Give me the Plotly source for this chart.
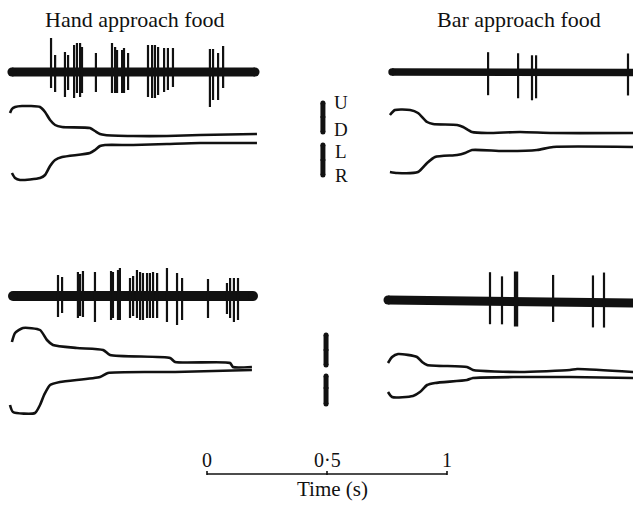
import numpy as np
import plotly.graph_objects as go

# ---------------- DATA ----------------
# Spike times (s) and spike amplitudes (up / down, arbitrary units)
HT_SPK_T = [0.171, 0.188, 0.229, 0.242, 0.267, 0.279, 0.292, 0.300, 0.358, 0.425, 0.438, 0.446, 0.467,
            0.475, 0.492, 0.575, 0.592, 0.604, 0.617, 0.642, 0.658, 0.679, 0.833, 0.846, 0.867, 0.888]
HT_SPK_UP = [34, 17, 20, 17, 27, 29, 29, 25, 19, 29, 25, 22, 22, 24, 19, 27, 27, 27, 25, 24, 24, 24, 23, 23, 19, 26]
HT_SPK_DN = [16, 20, 25, 18, 26, 21, 25, 21, 20, 21, 21, 21, 21, 21, 18, 25, 26, 26, 23, 20, 18, 15, 35, 28, 28, 16]

BT_SPK_T = [0.417, 0.542, 0.600, 0.617, 1.000]
BT_SPK_UP = [20, 19, 17, 17, 19]
BT_SPK_DN = [23, 26, 28, 26, 23]

HB_SPK_T = [0.200, 0.217, 0.283, 0.292, 0.304, 0.354, 0.421, 0.429, 0.450, 0.458, 0.500, 0.513, 0.529, 0.542,
            0.554, 0.571, 0.583, 0.596, 0.613, 0.654, 0.696, 0.717, 0.825, 0.904, 0.917, 0.933, 0.950]
HB_SPK_UP = [21, 19, 24, 22, 25, 24, 25, 24, 26, 28, 18, 20, 26, 24, 23, 23, 23, 24, 23, 28, 23, 18, 17, 13, 18, 18, 18]
HB_SPK_DN = [21, 17, 22, 20, 21, 26, 24, 22, 24, 24, 22, 20, 22, 24, 24, 22, 22, 22, 22, 26, 29, 24, 22, 18, 22, 26, 24]

BB_SPK_T = [0.425, 0.475, 0.529, 0.538, 0.688, 0.854, 0.900]
BB_SPK_UP = [29, 25, 30, 30, 27, 27, 30]
BB_SPK_DN = [23, 23, 25, 25, 20, 25, 25]

# Background activity band: start/end time (s) and level (a.u., +down)
HT_BAND_T = [0.008, 1.021]
HT_BAND_L = [0, 0]
BT_BAND_T = [0.017, 1.06]
BT_BAND_L = [0, 0.5]
HB_BAND_T = [0.0125, 1.0125]
HB_BAND_L = [0, 0]
BB_BAND_T = [0.0, 1.06]
BB_BAND_L = [0, 3]

# Eye position traces: time (s) and position below unit record (a.u.)
HT_V_T = [0, 0.008, 0.021, 0.05, 0.125, 0.146, 0.167, 0.188, 0.217, 0.333, 0.354, 0.375, 0.396, 0.513, 0.654, 0.792, 1.029]
HT_V = [41, 37, 35, 34, 35, 40, 48, 53, 55, 56, 59, 62, 63, 64, 64, 63, 62]
HT_H_T = [0.008, 0.021, 0.042, 0.125, 0.146, 0.167, 0.188, 0.217, 0.333, 0.354, 0.375, 0.396, 0.513, 0.654, 0.792, 1.029]
HT_H = [101, 106, 108, 106, 103, 94, 88, 85, 81, 78, 74, 73, 73, 72, 71, 71]

BT_V_T = [0.008, 0.029, 0.092, 0.125, 0.163, 0.188, 0.288, 0.313, 0.35, 0.413, 0.55, 0.688, 1.021]
BT_V = [43, 38, 38, 41, 50, 52, 53, 55, 60, 61, 60, 61, 61]
BT_H_T = [0.008, 0.038, 0.125, 0.163, 0.196, 0.288, 0.321, 0.35, 0.479, 0.621, 0.688, 1.021]
BT_H = [100, 101, 100, 91, 85, 83, 81, 78, 79, 78, 75, 75]

HB_V_T = [0.008, 0.021, 0.054, 0.125, 0.154, 0.179, 0.279, 0.388, 0.417, 0.667, 0.688, 0.917, 0.929, 1.008]
HB_V = [46, 37, 32, 34, 44, 49, 52, 54, 59, 62, 66, 67, 71, 71]
HB_H_T = [0, 0.0125, 0.104, 0.125, 0.142, 0.167, 0.208, 0.375, 0.408, 0.688, 1.008]
HB_H = [109, 116, 117, 109, 99, 89, 86, 81, 77, 76, 74]

BB_V_T = [0, 0.017, 0.042, 0.121, 0.142, 0.163, 0.329, 0.354, 0.55, 0.758, 0.788, 1.021]
BB_V = [63, 57, 54, 57, 62, 65, 67, 70, 72, 70, 69, 72]
BB_H_T = [0, 0.017, 0.104, 0.133, 0.163, 0.196, 0.329, 0.354, 0.55, 0.758, 1.021]
BB_H = [92, 97, 96, 92, 85, 83, 80, 78, 77, 77, 78]

PANEL_TITLES = ["Hand approach food", "Bar approach food"]
TIME_TICKS = [0, 0.5, 1]
TIME_TICK_LABELS = ["0", "0·5", "1"]
TIME_TITLE = "Time (s)"
CAL_LABELS = ["U", "D", "L", "R"]

# ---------------- LAYOUT CONSTANTS ----------------
W, H = 633, 505
PX_PER_S = 240.0
ORIGIN_LEFT, ORIGIN_RIGHT, ORIGIN_SCALE = 10, 388, 207
BASE = {"HT": 72, "BT": 72, "HB": 296, "BB": 300}
INK = "#111111"
FONT = "Liberation Serif"

fig = go.Figure()


def add_panel(key, xa, spk_t, spk_up, spk_dn, band_t, band_l, band_w, v_t, v, h_t, h):
    base = BASE[key]
    band_y = [base + l for l in band_l]
    # background band
    fig.add_trace(go.Scatter(x=band_t, y=band_y, mode="lines+markers", xaxis=xa, yaxis="y",
                             line=dict(color=INK, width=band_w),
                             marker=dict(color=INK, size=band_w, line=dict(width=0)),
                             hoverinfo="skip"))
    # spikes
    xs, ys = [], []
    for t, u, d in zip(spk_t, spk_up, spk_dn):
        c = float(np.interp(t, band_t, band_y))
        xs += [t, t, None]
        ys += [c - u, c + d, None]
    fig.add_trace(go.Scatter(x=xs, y=ys, mode="lines", xaxis=xa, yaxis="y",
                             line=dict(color=INK, width=2.2), hoverinfo="skip"))
    # eye traces
    for tt, vv in ((v_t, v), (h_t, h)):
        fig.add_trace(go.Scatter(x=tt, y=[base + q for q in vv], mode="lines", xaxis=xa, yaxis="y",
                                 line=dict(color=INK, width=2.6, shape="spline", smoothing=0.6),
                                 hoverinfo="skip"))


add_panel("HT", "x", HT_SPK_T, HT_SPK_UP, HT_SPK_DN, HT_BAND_T, HT_BAND_L, 9, HT_V_T, HT_V, HT_H_T, HT_H)
add_panel("BT", "x2", BT_SPK_T, BT_SPK_UP, BT_SPK_DN, BT_BAND_T, BT_BAND_L, 7.5, BT_V_T, BT_V, BT_H_T, BT_H)
add_panel("HB", "x", HB_SPK_T, HB_SPK_UP, HB_SPK_DN, HB_BAND_T, HB_BAND_L, 10, HB_V_T, HB_V, HB_H_T, HB_H)
add_panel("BB", "x2", BB_SPK_T, BB_SPK_UP, BB_SPK_DN, BB_BAND_T, BB_BAND_L, 9, BB_V_T, BB_V, BB_H_T, BB_H)

# calibration bars (x in scale-axis seconds, y0, y1, notch)
CAL_BARS = [(0.483, 103, 132, 117), (0.483, 145, 175, 160), (0.496, 335, 365, 350), (0.496, 376, 404, 388)]
for cx, y0, y1, yt in CAL_BARS:
    fig.add_trace(go.Scatter(x=[cx, cx], y=[y0, y1], mode="lines+markers", xaxis="x3", yaxis="y",
                             line=dict(color=INK, width=5), marker=dict(color=INK, size=5, line=dict(width=0)),
                             hoverinfo="skip"))
    fig.add_trace(go.Scatter(x=[cx - 0.01, cx + 0.01], y=[yt, yt], mode="lines", xaxis="x3", yaxis="y",
                             line=dict(color=INK, width=2), hoverinfo="skip"))

# time scale bar
SCALE_Y = 474
fig.add_trace(go.Scatter(x=[TIME_TICKS[0], TIME_TICKS[-1]], y=[SCALE_Y, SCALE_Y], mode="lines",
                         xaxis="x3", yaxis="y", line=dict(color=INK, width=1.6), hoverinfo="skip"))
tx, ty = [], []
for t in TIME_TICKS:
    tx += [t, t, None]
    ty += [SCALE_Y - 3, SCALE_Y + 1, None]
fig.add_trace(go.Scatter(x=tx, y=ty, mode="lines", xaxis="x3", yaxis="y",
                         line=dict(color=INK, width=1.6), hoverinfo="skip"))

ann = []
ann.append(dict(x=(135 - ORIGIN_LEFT) / PX_PER_S, y=19, xref="x", yref="y", text=PANEL_TITLES[0],
                showarrow=False, font=dict(family=FONT, size=22, color=INK)))
ann.append(dict(x=(519 - ORIGIN_RIGHT) / PX_PER_S, y=19, xref="x2", yref="y", text=PANEL_TITLES[1],
                showarrow=False, font=dict(family=FONT, size=22, color=INK)))
for t, lab in zip(TIME_TICKS, TIME_TICK_LABELS):
    ann.append(dict(x=t, y=460, xref="x3", yref="y", text=lab, showarrow=False,
                    font=dict(family=FONT, size=20, color=INK)))
ann.append(dict(x=0.521, y=489, xref="x3", yref="y", text=TIME_TITLE, showarrow=False,
                font=dict(family=FONT, size=21, color=INK)))
for lab, yy in zip(CAL_LABELS, [102, 129, 151, 175]):
    ann.append(dict(x=(341 - ORIGIN_SCALE) / PX_PER_S, y=yy, xref="x3", yref="y", text=lab, showarrow=False,
                    font=dict(family=FONT, size=19, color=INK)))

fig.update_layout(
    width=W, height=H, margin=dict(l=0, r=0, t=0, b=0),
    paper_bgcolor="white", plot_bgcolor="white", showlegend=False, hovermode=False,
    xaxis=dict(range=[-ORIGIN_LEFT / PX_PER_S, (W - ORIGIN_LEFT) / PX_PER_S], visible=False, domain=[0, 1]),
    xaxis2=dict(range=[-ORIGIN_RIGHT / PX_PER_S, (W - ORIGIN_RIGHT) / PX_PER_S], visible=False,
                overlaying="x", anchor="y"),
    xaxis3=dict(range=[-ORIGIN_SCALE / PX_PER_S, (W - ORIGIN_SCALE) / PX_PER_S], visible=False,
                overlaying="x", anchor="y"),
    yaxis=dict(range=[H, 0], visible=False, domain=[0, 1]),
    annotations=ann,
)

fig.write_html("out.html", config={"displayModeBar": False, "staticPlot": True},
               post_script="document.body.style.margin='0px';document.body.style.overflow='hidden';")
